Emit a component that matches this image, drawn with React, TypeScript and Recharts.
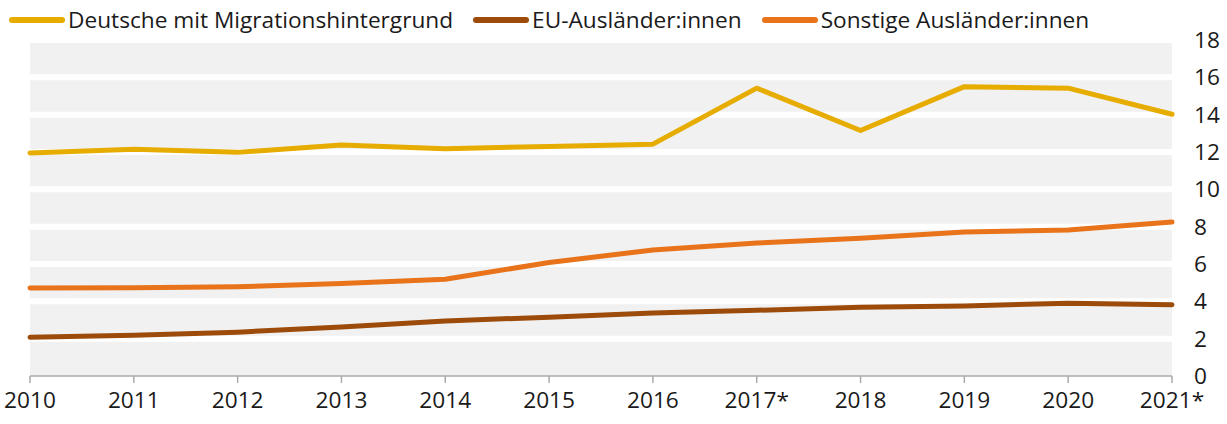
import React from 'react';
import { LineChart, Line, XAxis, YAxis, CartesianGrid } from 'recharts';

const YEARS = ['2010', '2011', '2012', '2013', '2014', '2015', '2016', '2017*', '2018', '2019', '2020', '2021*'];
const DEUTSCHE_MH = [11.95, 12.15, 11.98, 12.38, 12.18, 12.3, 12.42, 15.42, 13.15, 15.5, 15.42, 14.02];
const EU_AUSL = [2.08, 2.18, 2.35, 2.62, 2.95, 3.15, 3.38, 3.52, 3.68, 3.75, 3.9, 3.82];
const SONSTIGE_AUSL = [4.72, 4.73, 4.78, 4.95, 5.18, 6.08, 6.75, 7.12, 7.38, 7.72, 7.82, 8.25];
const Y_TICKS = [0, 2, 4, 6, 8, 10, 12, 14, 16, 18];

const SERIES = [
  { key: 'deutsche', name: 'Deutsche mit Migrationshintergrund', color: '#e6ac00' },
  { key: 'eu', name: 'EU-Ausländer:innen', color: '#9c4b0a' },
  { key: 'sonstige', name: 'Sonstige Ausländer:innen', color: '#e8731a' },
];

const data = YEARS.map((year, i) => ({
  year,
  deutsche: DEUTSCHE_MH[i],
  eu: EU_AUSL[i],
  sonstige: SONSTIGE_AUSL[i],
}));

const FONT = '"Open Sans", sans-serif';
const FS = 22.67;
const TEXT = '#1a1a1a';

const App: React.FC = () => {
  return (
    <div style={{ position: 'absolute', left: 0, top: 0, width: 1227, height: 424, background: '#fff', fontFamily: FONT }}>
      <div style={{ position: 'absolute', left: 9, top: 3, display: 'flex', alignItems: 'center', gap: 20, fontSize: FS, lineHeight: '34px', color: TEXT, whiteSpace: 'nowrap' }}>
        {SERIES.map((s) => (
          <div key={s.key} style={{ display: 'flex', alignItems: 'center' }}>
            <span style={{ display: 'inline-block', width: 56, height: 6, borderRadius: 3, background: s.color, marginRight: 3 }} />
            <span>{s.name}</span>
          </div>
        ))}
      </div>
      <LineChart width={1227} height={424} data={data} margin={{ top: 40, right: 0, left: 30, bottom: 0 }}>
        <CartesianGrid
          vertical={false}
          fill="#f1f1f1"
          stroke="#ffffff"
          strokeWidth={6}
          horizontalValues={[2, 4, 6, 8, 10, 12, 14, 16, 18]}
        />
        <XAxis
          dataKey="year"
          interval={0}
          padding={{ left: 0, right: 0 }}
          axisLine={{ stroke: '#aaaaaa', strokeWidth: 1.5 }}
          tickLine={{ stroke: '#aaaaaa', strokeWidth: 1.5 }}
          tickSize={7}
          tickMargin={9}
          height={48}
          tick={{ fill: TEXT, fontSize: FS, fontFamily: FONT }}
        />
        <YAxis
          orientation="right"
          domain={[0, 18]}
          ticks={Y_TICKS}
          interval={0}
          axisLine={false}
          tickLine={false}
          tickMargin={16}
          width={55}
          tick={{ fill: TEXT, fontSize: FS, fontFamily: FONT, textAnchor: 'start' }}
        />
        {SERIES.map((s) => (
          <Line
            key={s.key}
            type="linear"
            dataKey={s.key}
            name={s.name}
            stroke={s.color}
            strokeWidth={5}
            strokeLinecap="round"
            strokeLinejoin="round"
            dot={false}
            activeDot={false}
            isAnimationActive={false}
          />
        ))}
      </LineChart>
    </div>
  );
};

export default App;
